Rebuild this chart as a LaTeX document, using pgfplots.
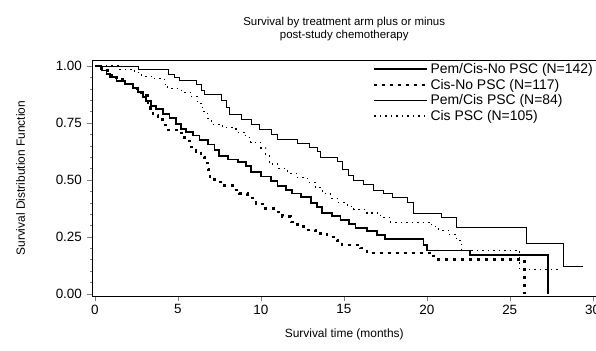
\documentclass[border=0pt]{standalone}
\usepackage{pgfplots}
\pgfplotsset{compat=1.18}
\usepackage{fontspec}
\setmainfont{Liberation Sans}
\usetikzlibrary{calc}
\begin{document}
\begin{tikzpicture}
\begin{axis}[
  scale only axis,
  width=503.8bp, height=236bp,
  xmin=-0.15, xmax=30.2, ymin=-0.01, ymax=1.025,
  axis line style={line width=0.9pt},
  xtick={0,5,10,15,20,25,30},
  xticklabels={0,5,10,15,20,25,30},
  ytick={0,0.25,0.5,0.75,1},
  yticklabels={0.00,0.25,0.50,0.75,1.00},
  minor y tick num=4,
  tick align=outside,
  xtick pos=bottom, ytick pos=left,
  major tick length=5bp, minor tick length=2bp,
  minor tick style={line width=0.4pt},
  ticklabel style={font=\fontsize{13.5}{15}\selectfont},
  yticklabel style={xshift=-2bp},
  /pgf/number format/assume math mode=true,
  title={Survival by treatment arm plus or minus\\post-study chemotherapy},
  title style={font=\fontsize{11.5}{12.5}\selectfont, align=center, yshift=10bp},
  xlabel={Survival time (months)},
  xlabel style={font=\fontsize{12}{14}\selectfont, yshift=-8bp},
  ylabel={Survival Distribution Function},
  ylabel style={font=\fontsize{12}{14}\selectfont, yshift=24bp},
  legend style={at={(1,1)}, anchor=north east, draw=none, fill=none,
    font=\fontsize{14}{16}\selectfont, row sep=0bp, inner sep=1bp,
    cells={anchor=west}},
  legend image code/.code={\draw[#1] (0bp,0bp) -- (53bp,0bp);},
  const plot,
]
\coordinate (sw) at (rel axis cs:0,0);
\coordinate (ne) at (rel axis cs:1,1);

% Pem/Cis No PSC
\addplot[black, line width=1.8pt] coordinates {
(0,1.00) (0.4,0.98) (0.7,0.965) (0.9,0.95) (1.3,0.935) (1.8,0.92) (2.3,0.905)
(2.6,0.885) (2.9,0.865) (3.1,0.845) (3.4,0.825) (3.7,0.81) (4.1,0.79) (4.5,0.77)
(4.9,0.745) (5.2,0.725) (5.5,0.71) (5.9,0.695) (6.3,0.675) (6.8,0.655) (7.2,0.63)
(7.5,0.605) (8.0,0.59) (8.6,0.58) (9.1,0.56) (9.4,0.535) (10.0,0.515) (10.6,0.495)
(11.0,0.475) (11.5,0.455) (11.9,0.44) (12.4,0.425) (13.0,0.40) (13.4,0.38)
(13.7,0.355) (14.3,0.34) (14.8,0.325) (15.3,0.305) (15.7,0.29) (16.4,0.275)
(17.0,0.26) (17.5,0.24) (19.8,0.215) (20.0,0.19) (22.6,0.17) (27.3,0.0)
};
\addlegendentry{Pem/Cis-No PSC (N=142)}

% Cis No PSC
\addplot[black, line width=2.4bp, dash pattern=on 3bp off 5bp] coordinates {
(0,1.0) (0.4,0.98) (0.8,0.96) (1.3,0.94) (1.8,0.92) (2.3,0.90) (2.8,0.87)
(3.2,0.84) (3.35,0.81) (3.5,0.785) (3.8,0.765) (4.1,0.74) (4.4,0.72) (5.1,0.705)
(5.4,0.67) (5.7,0.645) (6.1,0.625) (6.4,0.60) (6.6,0.575) (6.8,0.545) (6.95,0.51)
(7.2,0.49) (7.8,0.475) (8.3,0.455) (8.7,0.44) (9.2,0.42) (9.7,0.395) (10.2,0.375)
(10.8,0.36) (11.3,0.34) (11.8,0.315) (12.2,0.295) (12.7,0.28) (13.3,0.265)
(14.0,0.25) (14.6,0.235) (14.9,0.215) (16.0,0.20) (16.4,0.18) (20.2,0.165)
(20.6,0.15) (25.9,0.0)
};
\addlegendentry{Cis-No PSC (N=117)}

% Pem/Cis PSC
\addplot[black, line width=0.6pt] coordinates {
(0,1.0) (2.6,0.985) (4.4,0.965) (4.8,0.95) (5.1,0.935) (6.1,0.92) (6.4,0.895)
(6.6,0.875) (7.6,0.85) (7.9,0.82) (8.1,0.79) (8.8,0.765) (9.4,0.745) (9.9,0.72)
(10.6,0.70) (11.0,0.68) (12.2,0.66) (12.9,0.645) (13.4,0.625) (13.6,0.60)
(14.6,0.58) (14.9,0.545) (15.3,0.52) (15.6,0.50) (16.2,0.48) (16.8,0.455)
(17.4,0.44) (17.9,0.425) (18.8,0.40) (19.2,0.355) (20.9,0.335) (21.8,0.29)
(26.0,0.22) (28.2,0.12) (29.4,0.12)
};
\addlegendentry{Pem/Cis PSC (N=84)}

% Cis PSC
\addplot[black, line width=1.1bp, dash pattern=on 1.5bp off 4bp] coordinates {
(0,1.0) (1.4,0.985) (2.4,0.97) (2.8,0.955) (3.4,0.945) (4.2,0.92) (4.4,0.90)
(5.2,0.885) (5.8,0.865) (6.2,0.835) (6.5,0.80) (6.8,0.77) (7.0,0.745) (7.7,0.73)
(8.5,0.71) (9.1,0.685) (9.4,0.665) (10.0,0.64) (10.3,0.605) (10.5,0.57)
(11.0,0.55) (11.6,0.53) (12.2,0.51) (12.8,0.49) (13.3,0.465) (13.7,0.44)
(14.2,0.42) (14.6,0.40) (15.2,0.385) (15.6,0.37) (16.4,0.355) (17.2,0.335)
(17.8,0.315) (20.3,0.295) (20.7,0.28) (21.3,0.26) (21.8,0.235) (22.1,0.19)
(25.6,0.105) (27.9,0.105)
};
\addlegendentry{Cis PSC (N=105)}
\end{axis}
\pgfresetboundingbox
\path[use as bounding box] ($(sw)+(-92.5bp,-54.7bp)$) rectangle ($(ne)+(0bp,60.3bp)$);
\end{tikzpicture}
\end{document}
